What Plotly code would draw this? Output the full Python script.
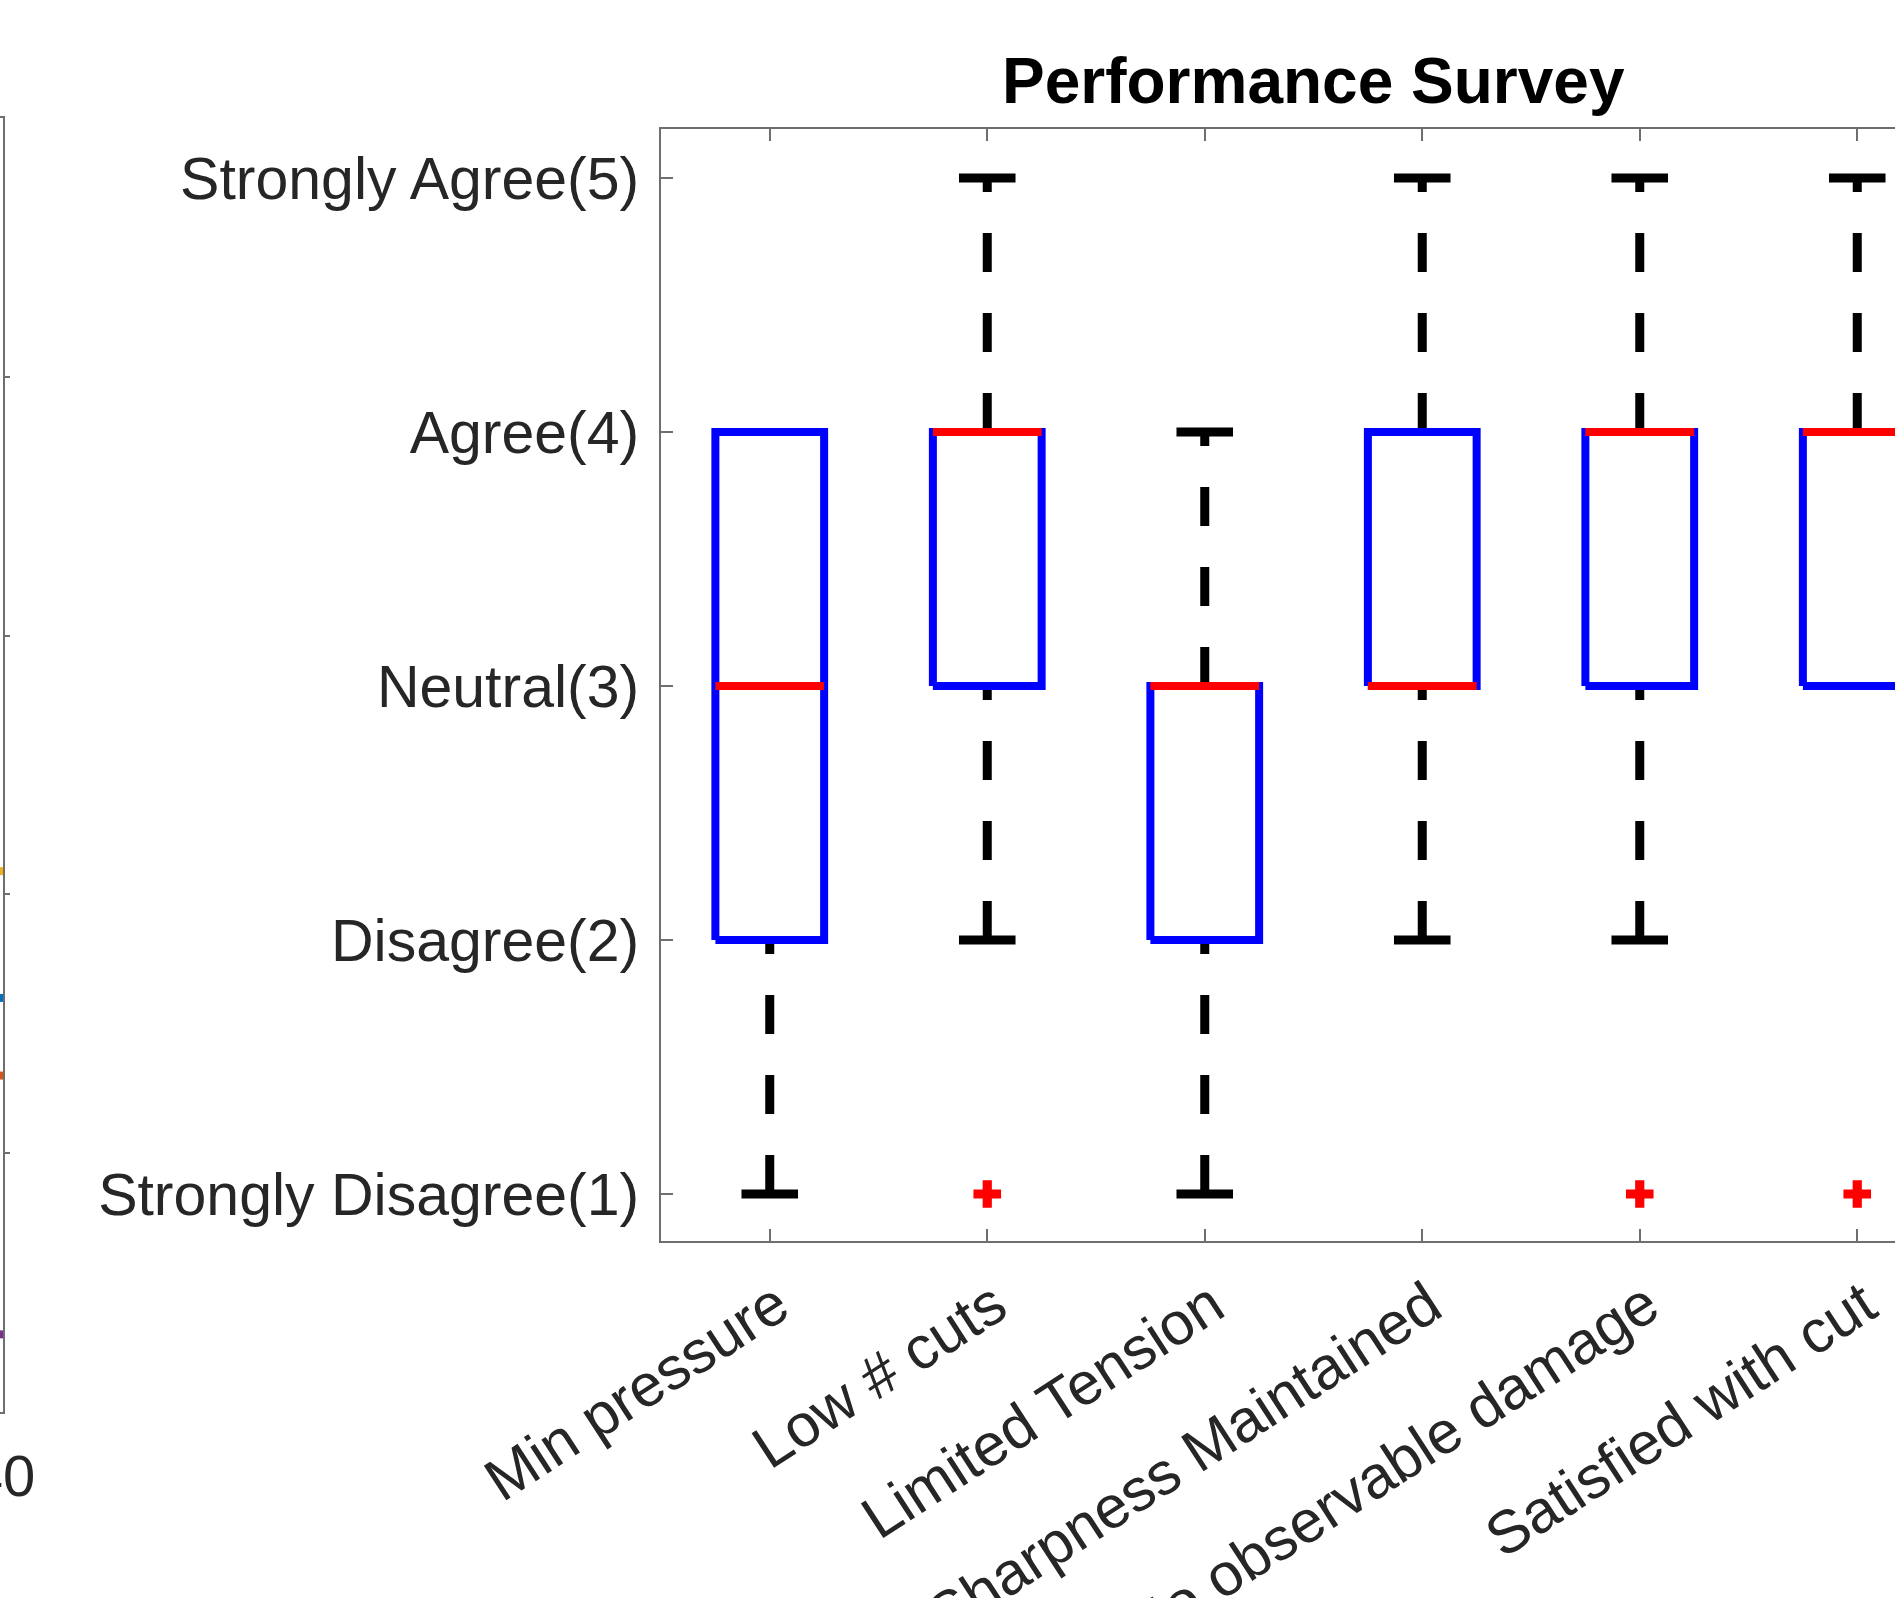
import plotly.graph_objects as go

# ---------------- data ----------------
categories = ["Min pressure", "Low # cuts", "Limited Tension",
              "Sharpness Maintained", "No observable damage", "Satisfied with cut"]
lower_whisker = [1, 2, 1, 2, 2, 3]
q1 = [2, 3, 2, 3, 3, 3]
median = [3, 4, 3, 3, 4, 4]
q3 = [4, 4, 3, 4, 4, 4]
upper_whisker = [4, 5, 4, 5, 5, 5]
outlier_cat = [2, 5, 6]          # category index (1-based)
outlier_val = [1, 1, 1]
likert_vals = [1, 2, 3, 4, 5]
likert_labels = ["Strongly Disagree(1)", "Disagree(2)", "Neutral(3)",
                 "Agree(4)", "Strongly Agree(5)"]

# neighbouring panel that is cut off at the left edge (only line ends visible)
side_x = [38.0, 40.0]
side_yellow = [2.09, 2.09]
side_blue = [1.60, 1.60]
side_orange = [1.30, 1.30]
side_purple = [0.30, 0.30]
side_xtick = [40]

# ---------------- style ----------------
FONT = "Liberation Sans, Arial, Helvetica, sans-serif"
TXT = "#262626"
AX = "#6e6e6e"
BOX_HALF = 0.25
CAP_HALF = 0.13
W, H = 1895, 1598
ML, MR, MT, MB = 0, 0, 118, 186

fig = go.Figure()
pos = list(range(1, len(categories) + 1))

# whiskers (dashed, drawn from lower value to higher value)
for i, p in enumerate(pos):
    for a, b in ((lower_whisker[i], q1[i]), (q3[i], upper_whisker[i])):
        if a == b:
            continue
        fig.add_trace(go.Scatter(x=[p, p], y=[a, b], mode="lines",
                                 line=dict(color="black", width=9, dash="39px,41px"),
                                 hoverinfo="skip", showlegend=False))

# caps
cx, cy = [], []
for i, p in enumerate(pos):
    for v, ref in ((lower_whisker[i], q1[i]), (upper_whisker[i], q3[i])):
        if v == ref:
            continue
        cx += [p - CAP_HALF, p + CAP_HALF, None]
        cy += [v, v, None]
fig.add_trace(go.Scatter(x=cx, y=cy, mode="lines", line=dict(color="black", width=9),
                         hoverinfo="skip", showlegend=False))

# boxes
bx, by = [], []
for i, p in enumerate(pos):
    bx += [p - BOX_HALF, p + BOX_HALF, p + BOX_HALF, p - BOX_HALF, p - BOX_HALF, None]
    by += [q1[i], q1[i], q3[i], q3[i], q1[i], None]
fig.add_trace(go.Scatter(x=bx, y=by, mode="lines", line=dict(color="#0000ff", width=8),
                         hoverinfo="skip", showlegend=False))

# medians
mx, my = [], []
for i, p in enumerate(pos):
    mx += [p - BOX_HALF, p + BOX_HALF, None]
    my += [median[i], median[i], None]
fig.add_trace(go.Scatter(x=mx, y=my, mode="lines", line=dict(color="#ff0000", width=8),
                         hoverinfo="skip", showlegend=False))

# outliers
fig.add_trace(go.Scatter(x=outlier_cat, y=outlier_val, mode="markers",
                         marker=dict(symbol="cross", size=23, color="#ff0000"),
                         hoverinfo="skip", showlegend=False))

# side panel lines
for ys, col in ((side_yellow, "#EDB120"), (side_blue, "#0072BD"),
                (side_orange, "#D95319"), (side_purple, "#7E2F8E")):
    fig.add_trace(go.Scatter(x=side_x, y=ys, mode="lines", line=dict(color=col, width=8),
                             xaxis="x2", yaxis="y2", hoverinfo="skip", showlegend=False))

plot_w = W - ML - MR
plot_h = H - MT - MB
x0_px, x1_px = 661, W          # main axes left edge / figure edge
y_top_px, y_bot_px = 129, 1241
px_per_x = 217.5
px_per_y = 254.0

xrange = [0.5, 0.5 + (x1_px - x0_px) / px_per_x]
yrange = [1 - (y_bot_px - 1194) / px_per_y, 5 + (178 - y_top_px) / px_per_y]

fig.update_layout(
    width=W, height=H,
    margin=dict(l=ML, r=MR, t=MT, b=MB, pad=0, autoexpand=False),
    paper_bgcolor="white", plot_bgcolor="white",
    font=dict(family=FONT, color=TXT, size=60),
    xaxis=dict(domain=[(x0_px - ML) / plot_w, 1.0], range=xrange, automargin=False,
               tickmode="array", tickvals=pos, ticktext=categories,
               tickangle=-33, ticks="inside", ticklen=12, tickwidth=2, tickcolor=AX,
               showline=True, linecolor=AX, linewidth=2, mirror="ticks",
               showgrid=False, zeroline=False, tickfont=dict(size=60, color=TXT),
               ticklabelstandoff=4, ticklabelshift=7, ticklabeloverflow="allow",
               anchor="y"),
    yaxis=dict(domain=[(H - MB - y_bot_px) / plot_h, (H - MB - y_top_px) / plot_h],
               range=yrange, automargin=False, tickmode="array", tickvals=likert_vals,
               ticktext=likert_labels,
               ticks="inside", ticklen=12, tickwidth=2, tickcolor=AX,
               showline=True, linecolor=AX, linewidth=2, mirror=False,
               showgrid=False, zeroline=False, tickfont=dict(size=59, color=TXT),
               ticklabelstandoff=8, ticklabeloverflow="allow", anchor="x"),
    xaxis2=dict(domain=[0, 3 / plot_w], range=[38, 40], automargin=False,
                tickmode="array", tickvals=side_xtick,
                ticks="", showline=True, linecolor=AX, linewidth=2, mirror=True,
                showgrid=False, zeroline=False, tickfont=dict(size=58, color=TXT),
                ticklabelstandoff=12, ticklabeloverflow="allow", anchor="y2"),
    yaxis2=dict(domain=[0, 1], range=[0, 5], side="right", automargin=False,
                tickmode="array",
                tickvals=[1, 2, 3, 4], showticklabels=False, ticks="outside", ticklen=5,
                tickcolor=AX, tickwidth=2, showline=True, linecolor=AX, linewidth=2,
                showgrid=False, zeroline=False, anchor="x2"),
    annotations=[dict(text="<b>Performance Survey</b>", x=3.5, xref="x",
                      y=(H - MB - 81) / plot_h, yref="paper", yanchor="middle",
                      xanchor="center", showarrow=False,
                      font=dict(family=FONT, size=64, color="black"))],
)

fig.write_html("out.html", config={"displayModeBar": False},
               post_script="document.body.style.margin='0';document.body.style.overflow='hidden';")
